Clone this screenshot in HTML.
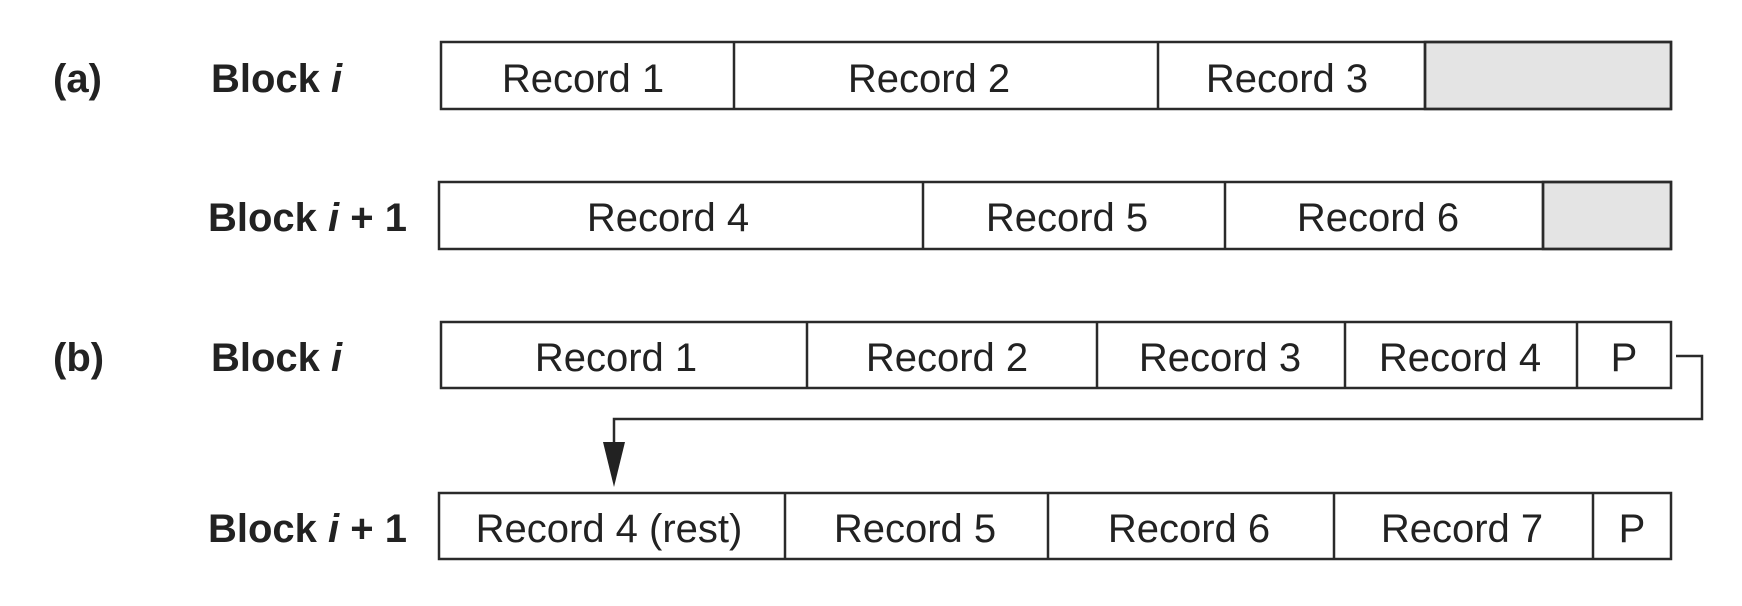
<!DOCTYPE html>
<html><head><style>body{margin:0;background:#fff}svg{display:block}</style></head><body>
<svg width="1742" height="606" viewBox="0 0 1742 606" xmlns="http://www.w3.org/2000/svg" font-family="Liberation Sans, Arial, sans-serif" font-size="40" fill="#222">
<g stroke="#2a2a2a" stroke-width="2.5">
<rect x="1425" y="42" width="246" height="67" fill="#e4e4e4"/>
<rect x="1543" y="182" width="128" height="67" fill="#e4e4e4"/>
<rect x="441" y="42" width="1230" height="67" fill="none"/>
<line x1="734" y1="42" x2="734" y2="109"/><line x1="1158" y1="42" x2="1158" y2="109"/><line x1="1425" y1="42" x2="1425" y2="109"/>
<rect x="439" y="182" width="1232" height="67" fill="none"/>
<line x1="923" y1="182" x2="923" y2="249"/><line x1="1225" y1="182" x2="1225" y2="249"/><line x1="1543" y1="182" x2="1543" y2="249"/>
<rect x="441" y="322" width="1230" height="66" fill="none"/>
<line x1="807" y1="322" x2="807" y2="388"/><line x1="1097" y1="322" x2="1097" y2="388"/><line x1="1345" y1="322" x2="1345" y2="388"/><line x1="1577" y1="322" x2="1577" y2="388"/>
<rect x="439" y="493" width="1232" height="66" fill="none"/>
<line x1="785" y1="493" x2="785" y2="559"/><line x1="1048" y1="493" x2="1048" y2="559"/><line x1="1334" y1="493" x2="1334" y2="559"/><line x1="1593" y1="493" x2="1593" y2="559"/>
<polyline points="1676,356 1702,356 1702,419 614,419 614,445" fill="none"/>
</g>
<polygon points="603,442 625,442 614,487" fill="#222"/>
<g font-weight="bold">
<text x="53" y="92">(a)</text>
<text x="211" y="92">Block <tspan font-style="italic">i</tspan></text>
<text x="208" y="231">Block <tspan font-style="italic">i</tspan> + 1</text>
<text x="53" y="371">(b)</text>
<text x="211" y="371">Block <tspan font-style="italic">i</tspan></text>
<text x="208" y="542">Block <tspan font-style="italic">i</tspan> + 1</text>
</g>
<g text-anchor="middle">
<text x="583" y="92">Record 1</text><text x="929" y="92">Record 2</text><text x="1287" y="92">Record 3</text>
<text x="668" y="231">Record 4</text><text x="1067" y="231">Record 5</text><text x="1378" y="231">Record 6</text>
<text x="616" y="371">Record 1</text><text x="947" y="371">Record 2</text><text x="1220" y="371">Record 3</text><text x="1460" y="371">Record 4</text><text x="1624" y="371">P</text>
<text x="609" y="542">Record 4 (rest)</text><text x="915" y="542">Record 5</text><text x="1189" y="542">Record 6</text><text x="1462" y="542">Record 7</text><text x="1632" y="542">P</text>
</g>
</svg>
</body></html>
